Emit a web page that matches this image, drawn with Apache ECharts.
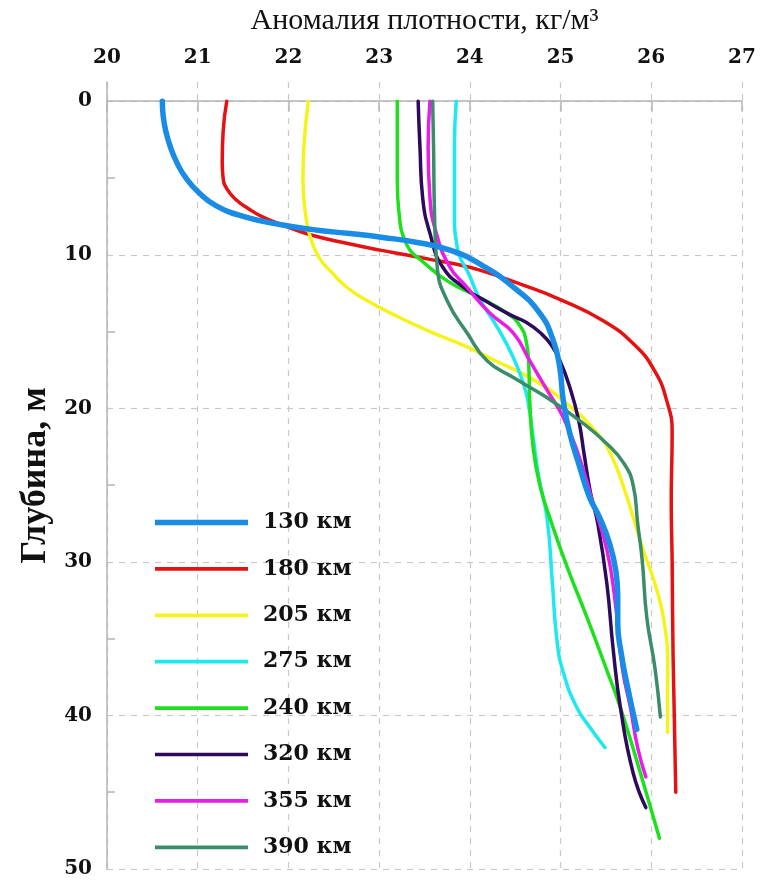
<!DOCTYPE html>
<html><head><meta charset="utf-8">
<script src="https://cdn.jsdelivr.net/npm/echarts@6/dist/echarts.min.js"></script>
<style>html,body{margin:0;padding:0;background:#fff}#c{width:781px;height:884px}</style>
</head><body><div id="c"></div>
<script>
// [density anomaly (kg/m3), depth (m)]
const names = ['130 км','180 км','205 км','275 км','240 км','320 км','355 км','390 км'];
const colors = ['#1a8ce6','#e41212','#f4f41c','#1ee8f0','#1ee01e','#2d0a5c','#e61ee6','#3a8c6a'];
const depthLabelValues = [0,10,20,30,40,50];
const depthMinorTicks = [5,15,25,35,45];

const s130 = [[20.61,0],[20.62,1],[20.65,2],[20.70,3],[20.77,4],[20.87,5],[21.02,6],[21.20,6.8],[21.50,7.5],[21.92,8.05],[22.32,8.4],[22.68,8.62],[23.04,8.87],[23.42,9.2],[23.78,9.7],[24.11,10.6],[24.48,12.1],[24.77,13.8],[24.92,15.6],[24.99,17.3],[25.03,19.5],[25.10,21.6],[25.21,23.8],[25.32,25.8],[25.43,27.1],[25.54,28.8],[25.61,30.6],[25.63,32.2],[25.63,34.0],[25.67,36.0],[25.73,37.9],[25.84,40.9]];
const s180 = [[21.32,0],[21.28,2],[21.27,4],[21.28,5.0],[21.32,5.7],[21.42,6.4],[21.56,7.0],[21.72,7.55],[21.95,8.1],[22.24,8.7],[22.68,9.3],[23.01,9.7],[23.29,10.0],[23.56,10.3],[23.84,10.6],[24.11,11.0],[24.55,11.9],[24.99,12.9],[25.47,14.3],[25.82,15.9],[26.04,17.6],[26.17,19.5],[26.23,21.6],[26.22,26],[26.23,30],[26.24,36],[26.27,45]];
const s205 = [[22.22,0],[22.17,3],[22.16,5.1],[22.20,7.8],[22.25,9.0],[22.34,10.2],[22.47,11.1],[22.64,12.1],[22.87,13.0],[23.23,14.1],[23.56,15.0],[23.97,16.0],[24.28,16.9],[24.66,18.0],[25.03,19.5],[25.40,21.6],[25.57,23.2],[25.71,25.4],[25.80,27.1],[25.91,29.2],[26.06,31.8],[26.15,34.2],[26.18,36.8],[26.18,41.1]];
const s275 = [[23.85,0],[23.83,3],[23.83,7.2],[23.86,9.5],[24.00,11.4],[24.11,12.9],[24.30,14.7],[24.48,16.7],[24.59,18.4],[24.64,19.5],[24.70,22.0],[24.76,24.5],[24.85,27.1],[24.91,31.4],[24.96,35.1],[25.03,37.2],[25.18,39.5],[25.32,40.75],[25.49,42.1]];
const s240 = [[23.20,0],[23.20,5.2],[23.23,7.9],[23.26,8.7],[23.34,9.7],[23.45,10.3],[23.75,11.7],[24.11,12.8],[24.41,13.8],[24.55,14.6],[24.62,15.6],[24.65,17.3],[24.66,19.5],[24.70,22.7],[24.78,25.2],[24.88,27.1],[25.07,30.3],[25.29,33.6],[25.50,36.9],[25.66,39.5],[25.88,43.75],[26.09,48.0]];
const s320 = [[23.43,0],[23.45,3],[23.48,6.3],[23.56,8.6],[23.70,10.8],[23.95,12.2],[24.17,13.0],[24.44,13.9],[24.62,14.4],[24.78,15.1],[24.90,15.9],[25.00,17.0],[25.10,18.6],[25.20,20.8],[25.26,23.0],[25.33,25.5],[25.41,27.5],[25.51,31.4],[25.58,35.7],[25.66,39.5],[25.80,43.75],[25.94,46.0]];
const s355 = [[23.56,0],[23.54,3],[23.56,6.3],[23.63,8.6],[23.78,10.8],[23.95,12.0],[24.22,13.8],[24.48,15.1],[24.66,16.9],[24.85,18.8],[25.03,20.6],[25.19,22.9],[25.35,26.0],[25.51,29.2],[25.60,32.5],[25.68,36.9],[25.77,39.5],[25.85,42.1],[25.94,44.0]];
const s390 = [[23.59,0],[23.60,3],[23.61,7.2],[23.64,10.8],[23.75,13.0],[23.97,15.1],[24.19,16.9],[24.48,18.0],[24.85,19.3],[25.21,20.8],[25.51,22.3],[25.70,23.6],[25.80,25.0],[25.85,27.5],[25.90,29.9],[25.95,33.6],[26.04,36.9],[26.10,40.1]];
const allSeries = [s130,s180,s205,s275,s240,s320,s355,s390];

const chart = echarts.init(document.getElementById('c'));
const gridColor = '#c9c9c9';
const tickFont = {fontFamily:'DejaVu Serif', fontWeight:'bold', fontSize:20, color:'#111'};
// legend line icons: tiny points at y=0 and y=22 fix the box, the bar in between is the stroke
const thickIcon = 'path://M0,0L0.01,0L0,0.01ZM0,8H100V14H0ZM0,22L0.01,22L0,21.99Z';
const thinIcon  = 'path://M0,0L0.01,0L0,0.01ZM0,9H100V13H0ZM0,22L0.01,22L0,21.99Z';

chart.setOption({
  animation:false,
  backgroundColor:'#fff',
  grid:{left:107, right:39, top:82, bottom:15, containLabel:false},
  legend:{
    orient:'vertical', left:150, top:506.5,
    itemWidth:93, itemHeight:22, itemGap:24.4,
    data:names.map((n,i)=>({name:n, icon: i===0 ? thickIcon : thinIcon})),
    textStyle:Object.assign({}, tickFont, {fontSize:22, lineHeight:22, padding:[0,0,0,10]})
  },
  xAxis:{
    type:'value', position:'top', min:20, max:27, interval:1,
    name:'Аномалия плотности, кг/м³', nameLocation:'middle', nameGap:46,
    nameTextStyle:{fontFamily:'Liberation Serif', fontSize:30, color:'#111'},
    axisLine:{show:true, lineStyle:{color:'#b5b5b5', width:1.5}},
    axisTick:{show:true, inside:true, length:10, lineStyle:{color:'#b5b5b5', width:1.5}},
    axisLabel:Object.assign({margin:14}, tickFont),
    splitLine:{show:true, lineStyle:{color:gridColor, type:[6,6], width:1.2}}
  },
  yAxis:[{
    type:'value', inverse:true, min:-1.25, max:50, position:'left',
    name:'Глубина, м', nameLocation:'middle', nameGap:45,
    nameTextStyle:{fontFamily:'Liberation Serif', fontWeight:'bold', fontSize:36, color:'#111'},
    axisLine:{show:true, lineStyle:{color:'#b5b5b5', width:1.5}},
    axisTick:{show:false, customValues:depthLabelValues},
    axisLabel:Object.assign({margin:15, customValues:depthLabelValues}, tickFont),
    splitLine:{show:true, lineStyle:{color:gridColor, type:[6,6], width:1.2}}
  },{
    type:'value', inverse:true, min:-1.25, max:50, position:'left',
    axisLine:{show:false},
    axisTick:{show:true, inside:true, length:8, customValues:depthMinorTicks, lineStyle:{color:'#b5b5b5', width:1.5}},
    axisLabel:{show:false},
    splitLine:{show:false}
  }],
  series: allSeries.map((d,i)=>({
    name:names[i], type:'line', data:d, smooth:0.5,
    symbol:'none', showSymbol:false, yAxisIndex:0,
    z: i===0 ? 5 : 2,
    color:colors[i],
    lineStyle:{color:colors[i], width: i===0 ? 5.5 : 3.5, cap:'round', join:'round'}
  }))
});
</script></body></html>
